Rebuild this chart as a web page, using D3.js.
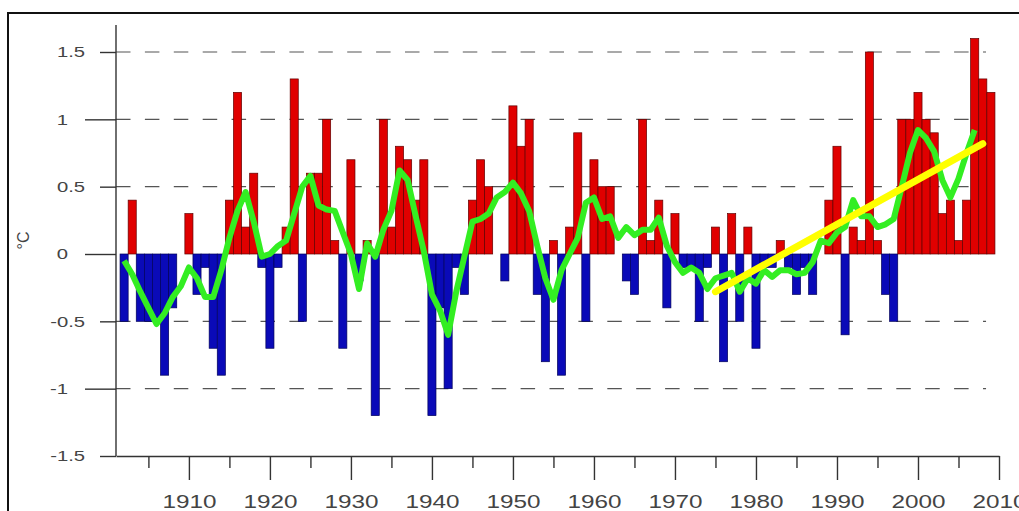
<!DOCTYPE html>
<html>
<head>
<meta charset="utf-8">
<script src="https://cdn.jsdelivr.net/npm/d3@7"></script>
<style>
  body { margin: 0; background: #fff; }
  svg { display: block; }
  text { font-family: "Liberation Sans", Arial, sans-serif; fill: #444; }
</style>
</head>
<body>
<svg id="chart" width="1019" height="511"></svg>
<script>
// annual anomalies, one value per year starting at firstYear
var firstYear = 1902;
var anomalies = [
  -0.5, 0.4, -0.5, -0.5, -0.5, -0.9, -0.4, 0, 0.3, -0.3,
  -0.1, -0.7, -0.9, 0.4, 1.2, 0.2, 0.6, -0.1, -0.7, -0.1,
  0.2, 1.3, -0.5, 0.6, 0.6, 1.0, 0.1, -0.7, 0.7, -0.2,
  0.1, -1.2, 1.0, 0.2, 0.8, 0.7, 0.4, 0.7, -1.2, -0.4,
  -1.0, -0.1, -0.3, 0.4, 0.7, 0.5, 0, -0.2, 1.1, 0.8,
  1.0, -0.3, -0.8, 0.1, -0.9, 0.2, 0.9, -0.5, 0.7, 0.5,
  0.5, 0, -0.2, -0.3, 1.0, 0.1, 0.4, -0.4, 0.3, -0.1,
  -0.1, -0.5, -0.1, 0.2, -0.8, 0.3, -0.5, 0.2, -0.7, -0.1,
  -0.1, 0.1, -0.1, -0.3, -0.1, -0.3, 0, 0.4, 0.8, -0.6,
  0.2, 0.1, 1.5, 0.1, -0.3, -0.5, 1.0, 1.0, 1.2, 1.0,
  0.9, 0.3, 0.4, 0.1, 0.4, 1.6, 1.3, 1.2
];

// green smoothed curve
var smoothStart = 1902;
var smoothed = [
  -0.05, -0.15, -0.28, -0.40, -0.52, -0.44, -0.32, -0.24, -0.10, -0.18,
  -0.32, -0.32, -0.12, 0.12, 0.32, 0.46, 0.24, -0.02, 0.00, 0.06,
  0.10, 0.30, 0.50, 0.58, 0.36, 0.33, 0.32, 0.16, 0.00, -0.26,
  0.08, -0.02, 0.18, 0.32, 0.62, 0.55, 0.28, 0.02, -0.30, -0.42,
  -0.60, -0.28, -0.02, 0.24, 0.26, 0.30, 0.42, 0.46, 0.53, 0.45,
  0.32, 0.06, -0.18, -0.34, -0.12, 0.00, 0.12, 0.38, 0.42, 0.26,
  0.28, 0.12, 0.20, 0.14, 0.18, 0.18, 0.27, 0.06, -0.06, -0.14,
  -0.10, -0.14, -0.26, -0.18, -0.16, -0.14, -0.28, -0.18, -0.22, -0.12,
  -0.17, -0.12, -0.12, -0.15, -0.14, -0.06, 0.10, 0.08, 0.16, 0.20,
  0.40, 0.28, 0.28, 0.20, 0.22, 0.26, 0.50, 0.75, 0.92, 0.86,
  0.76, 0.55, 0.42, 0.56, 0.75, 0.92
];

// yellow trend line end points
var trendYears = [1975, 2008];
var trendValues = [-0.28, 0.82];

var xMajorTicks = [1910, 1920, 1930, 1940, 1950, 1960, 1970, 1980, 1990, 2000, 2010];
var xMinorTicks = [1905, 1915, 1925, 1935, 1945, 1955, 1965, 1975, 1985, 1995, 2005];
var yTicks = [-1.5, -1, -0.5, 0, 0.5, 1, 1.5];
var yTickLabels = ["-1.5", "-1", "-0.5", "0", "0.5", "1", "1.5"];
var yGrid = [-1, -0.5, 0.5, 1, 1.5];

var svg = d3.select("#chart");

var x = d3.scaleLinear().domain([1901, 2010]).range([116, 999]);
var y = d3.scaleLinear().domain([-1.5, 1.5]).range([456, 52]);
var barW = x(1) - x(0);

// outer frame
svg.append("rect")
  .attr("x", 8).attr("y", 13)
  .attr("width", 1040).attr("height", 540)
  .attr("fill", "none")
  .attr("stroke", "#111")
  .attr("stroke-width", 2);

// dashed grid
svg.selectAll(".grid")
  .data(yGrid)
  .enter()
  .append("line")
  .attr("class", "grid")
  .attr("x1", x(1901))
  .attr("x2", x(2008.4))
  .attr("y1", function(d) { return y(d); })
  .attr("y2", function(d) { return y(d); })
  .attr("stroke", "#555")
  .attr("stroke-width", 1.2)
  .attr("stroke-dasharray", "14.5,14.4");

// bars
svg.selectAll(".bar")
  .data(anomalies)
  .enter()
  .append("rect")
  .attr("class", "bar")
  .attr("x", function(d, i) { return x(firstYear + i) - barW / 2; })
  .attr("y", function(d) { return d > 0 ? y(d) : y(0); })
  .attr("width", barW)
  .attr("height", function(d) { return Math.abs(y(d) - y(0)); })
  .attr("fill", function(d) { return d > 0 ? "#e00000" : "#0a0ab8"; })
  .attr("stroke", function(d) { return d > 0 ? "#600000" : "#00005a"; })
  .attr("stroke-width", 0.7);

// axes
var xAxis = svg.append("g")
  .attr("transform", "translate(0," + y(-1.5) + ")")
  .call(d3.axisBottom(x).tickValues(xMajorTicks).tickSize(24).tickSizeOuter(0).tickFormat(d3.format("d")));
xAxis.select(".domain").attr("stroke", "#333").attr("stroke-width", 1.4);
xAxis.selectAll(".tick line").attr("stroke", "#333").attr("stroke-width", 1.4);
xAxis.selectAll(".tick text")
  .attr("y", 39)
  .attr("font-size", 18)
  .attr("fill", "#444")
  .attr("transform", "scale(1.35,1)");

var xMinor = svg.append("g")
  .attr("transform", "translate(0," + y(-1.5) + ")")
  .call(d3.axisBottom(x).tickValues(xMinorTicks).tickSize(12).tickSizeOuter(0).tickFormat(""));
xMinor.select(".domain").remove();
xMinor.selectAll(".tick line").attr("stroke", "#333").attr("stroke-width", 1.4);

var yAxis = svg.append("g")
  .attr("transform", "translate(" + x(1901) + ",0)")
  .call(d3.axisLeft(y).tickValues(yTicks).tickSize(16).tickSizeOuter(0)
    .tickFormat(function(d, i) { return yTickLabels[i]; }));
yAxis.select(".domain").remove();
yAxis.selectAll(".tick line")
  .attr("x2", function(d) { return d % 1 === 0 ? -31 : -16; })
  .attr("stroke", "#333")
  .attr("stroke-width", 1.4);
yAxis.selectAll(".tick text")
  .attr("x", function(d) { return (d % 1 === 0 ? -48 : -31) / 1.35; })
  .attr("font-size", 15)
  .attr("fill", "#444")
  .attr("transform", "scale(1.35,1)");
yAxis.append("line")
  .attr("y1", y(1.7))
  .attr("y2", y(-1.5))
  .attr("stroke", "#333")
  .attr("stroke-width", 1.4);

svg.append("text")
  .attr("transform", "translate(29," + y(0.1) + ") rotate(-90)")
  .attr("text-anchor", "middle")
  .attr("font-size", 16)
  .text("°C");

// smoothed curve
var line = d3.line()
  .x(function(d, i) { return x(smoothStart + i); })
  .y(function(d) { return y(d); });

svg.append("path")
  .datum(smoothed)
  .attr("d", line)
  .attr("fill", "none")
  .attr("stroke", "#33ee22")
  .attr("stroke-width", 6)
  .attr("stroke-linejoin", "round");

// trend
svg.append("path")
  .datum(trendValues)
  .attr("d", d3.line()
    .x(function(d, i) { return x(trendYears[i]); })
    .y(function(d) { return y(d); }))
  .attr("stroke", "#ffff00")
  .attr("stroke-width", 7)
  .attr("stroke-linecap", "round");
</script>
</body>
</html>
